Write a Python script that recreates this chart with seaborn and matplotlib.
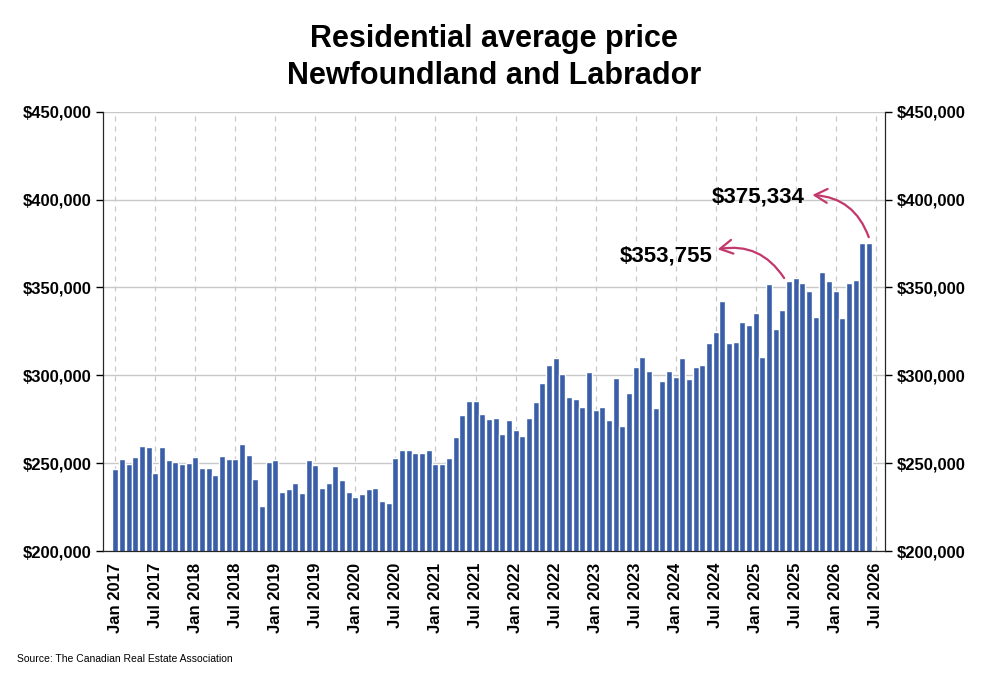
import numpy as np
import pandas as pd
import matplotlib
matplotlib.use('Agg')
import matplotlib.pyplot as plt
import seaborn as sns

# Monthly residential average price (thousands of $)
prices = [246.5, 252.2, 249.4, 253.5, 260.0, 259.4, 244.2, 259.4, 251.6, 250.7,
          249.6, 250.0, 253.5, 247.3, 247.3, 243.1, 253.9, 252.6, 252.6, 261.1,
          254.7, 241.0, 225.4, 250.7, 251.8, 233.8, 235.5, 238.9, 233.0, 252.0,
          249.0, 236.0, 238.5, 248.4, 240.4, 233.8, 230.6, 232.6, 235.3, 235.9,
          228.5, 227.3, 252.8, 257.7, 257.3, 256.0, 255.6, 257.3, 249.7, 249.7,
          252.8, 264.7, 277.6, 285.6, 285.6, 278.0, 275.0, 275.6, 266.5, 274.6,
          268.9, 265.5, 275.7, 284.9, 295.5, 305.9, 310.1, 300.6, 287.9, 286.4,
          282.2, 301.9, 280.5, 282.2, 274.4, 298.3, 271.2, 290.1, 305.0, 310.5,
          302.5, 281.4, 296.6, 302.5, 299.3, 309.9, 297.8, 304.6, 305.9, 318.3,
          324.5, 342.5, 318.3, 318.7, 330.4, 328.7, 335.2, 310.5, 352.0, 326.4,
          337.2, 353.755, 355.5, 352.4, 347.9, 333.1, 358.9, 353.4, 347.9, 332.7,
          352.6, 354.5, 375.334, 375.334]
years = list(range(2017, 2027))
tick_labels = [f'{m} {y}' for y in years for m in ('Jan', 'Jul')]

df = pd.DataFrame({'month': np.arange(len(prices)), 'price': np.array(prices) * 1000})

sns.set_style('white')
plt.rcParams['font.family'] = ['Liberation Sans', 'DejaVu Sans']
plt.rcParams['text.color'] = 'black'
plt.rcParams['xtick.color'] = 'black'
plt.rcParams['ytick.color'] = 'black'

fig = plt.figure(figsize=(9.94, 6.77), dpi=100)
ax = fig.add_axes([0.104, 0.186, 0.786, 0.649])

ax.set_axisbelow(True)
ax.grid(axis='y', color='#c8c8c8', linewidth=1)
for t in range(0, 115, 6):
    ax.axvline(t, color='#c8c8c8', linestyle=(0, (4, 4)), linewidth=0.9, zorder=0)

sns.barplot(data=df, x='month', y='price', native_scale=True, color='#3a5fa8',
            saturation=1, width=0.9, ax=ax, zorder=2)

ax.set_xlim(-1.8, 115.35)
ax.set_ylim(200000, 450000)
ax.set_xticks(range(0, 115, 6))
ax.set_xticklabels(tick_labels, rotation=90, fontsize=12, fontweight='bold')
yt = range(200000, 450001, 50000)
ax.set_yticks(yt)
ax.set_yticklabels([f'${v:,}' for v in yt], fontsize=12, fontweight='bold')
ax.set_xlabel('')
ax.set_ylabel('')
ax.tick_params(axis='both', length=5, width=1, direction='out', color='black')
ax.spines['top'].set_visible(False)
for s in ['left', 'right', 'bottom']:
    ax.spines[s].set_color('black')

ax2 = ax.twinx()
ax2.set_ylim(ax.get_ylim())
ax2.set_yticks(yt)
ax2.set_yticklabels([f'${v:,}' for v in yt], fontsize=12, fontweight='bold')
ax2.tick_params(axis='y', length=5, width=1, direction='out')
ax2.spines['top'].set_visible(False)

ax.set_title('Residential average price\nNewfoundland and Labrador', fontsize=22,
             fontweight='bold', pad=20, linespacing=1.3, color='black')

arrow_c = '#c2386c'
ax.text(89.6, 368000, '$353,755', fontsize=16, fontweight='bold', ha='right', va='center')
ax.annotate('', xy=(89.9, 371400), xytext=(100.5, 354000),
            arrowprops=dict(arrowstyle='->,head_length=0.9,head_width=0.5', color=arrow_c,
                            lw=1.6, connectionstyle='arc3,rad=0.35'))
ax.text(103.4, 401600, '$375,334', fontsize=16, fontweight='bold', ha='right', va='center')
ax.annotate('', xy=(104.1, 402700), xytext=(113.1, 377100),
            arrowprops=dict(arrowstyle='->,head_length=0.9,head_width=0.5', color=arrow_c,
                            lw=1.6, connectionstyle='arc3,rad=0.35'))

fig.text(0.017, 0.022, 'Source: The Canadian Real Estate Association', fontsize=7.5)

fig.savefig('out.png', dpi=100)
